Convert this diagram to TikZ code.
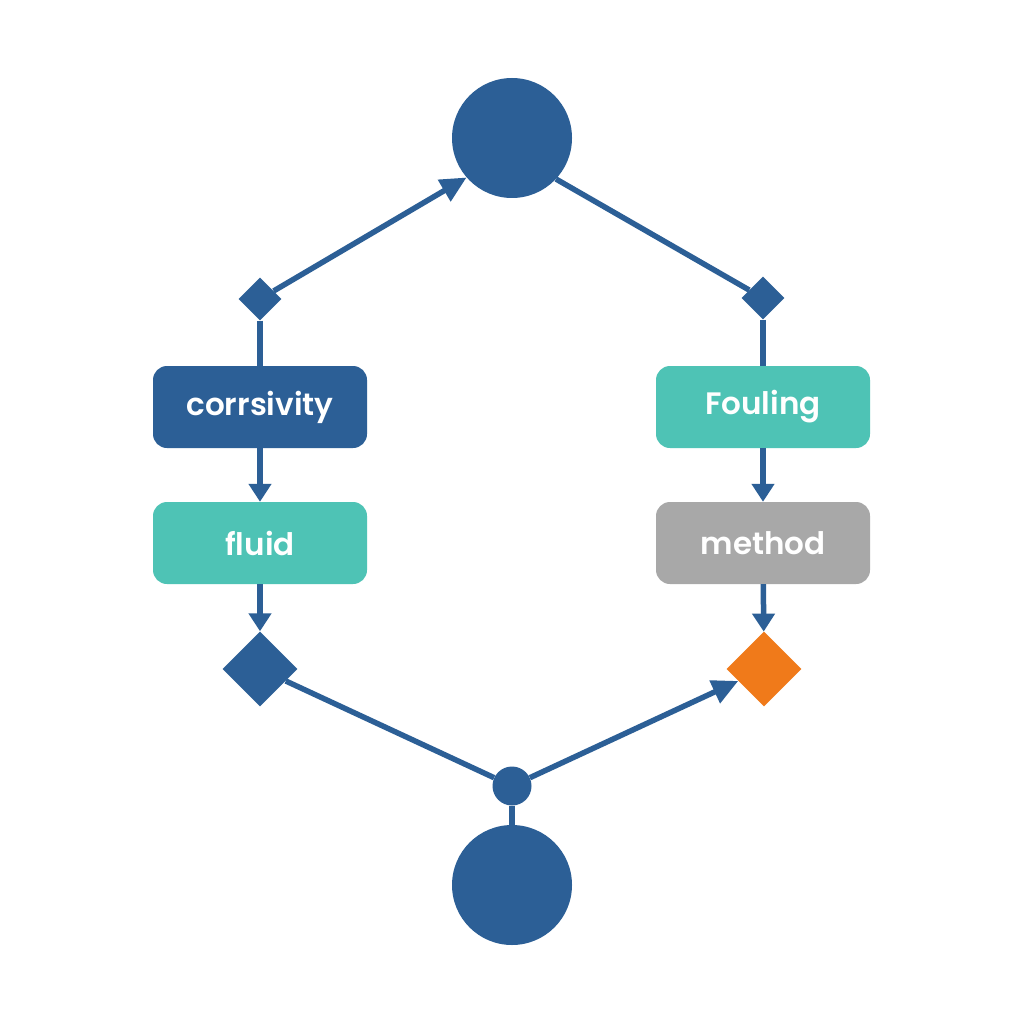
\documentclass[tikz,border=0pt]{standalone}
\usepackage{fontspec}
\setmainfont{Poppins}[BoldFont={Poppins SemiBold}]
\usetikzlibrary{arrows.meta,shapes.geometric}
\definecolor{navy}{RGB}{44,95,150}
\definecolor{teal}{RGB}{78,195,181}
\definecolor{greybox}{RGB}{168,168,168}
\definecolor{orangeD}{RGB}{240,122,26}
\tikzset{
  box/.style={rectangle, rounded corners=14pt, minimum width=214pt, minimum height=82pt, inner sep=0pt, text=white, font=\fontsize{31}{36}\selectfont\bfseries},
  bigcirc/.style={circle, fill=navy, minimum size=120pt, inner sep=0pt},
  dotnode/.style={circle, fill=navy, minimum size=39pt, inner sep=0pt},
  smalldia/.style={diamond, fill=navy, minimum size=43pt, inner sep=0pt, aspect=1},
  bigdia/.style={diamond, minimum size=75pt, inner sep=0pt, aspect=1},
  conn/.style={draw=navy, line width=5.5pt},
  arr/.style={conn, -{Triangle[length=18pt,width=22pt]}},
  darr/.style={conn, -{Triangle[length=26pt,width=24pt]}}
}
\begin{document}
\begin{tikzpicture}[x=1pt,y=-1pt]
\useasboundingbox[fill=white] (0,0) rectangle (1024,1024);
\node[bigcirc] (top) at (512,138) {};
\node[bigcirc] (bot) at (512,885) {};
\node[dotnode] (dot) at (512,786) {};
\node[smalldia] (ld) at (260,299) {};
\node[smalldia] (rd) at (763,298) {};
\node[bigdia, fill=navy] (bd) at (260,669) {};
\node[bigdia, fill=orangeD] (od) at (764,669) {};
\node[box, fill=navy] (cor) at (260,407) {\raisebox{-2pt}{corrsivity}};
\node[box, fill=teal] (flu) at (260,543) {\raisebox{-2pt}{fluid}};
\node[box, fill=teal] (fou) at (763,407) {\raisebox{-2pt}{Fouling}};
\node[box, fill=greybox] (met) at (763,543) {\raisebox{-2pt}{method}};
\draw[darr] (ld) -- (top.221);
\draw[conn] (top.-43) -- (rd);
\draw[conn] (ld) -- (cor);
\draw[conn] (rd) -- (fou);
\draw[arr] (cor) -- (flu);
\draw[arr] (flu) -- (bd);
\draw[arr] (fou) -- (met);
\draw[arr] (met) -- (od);
\draw[conn] (bd) -- (dot);
\draw[darr] (dot) -- (od);
\draw[conn] (dot) -- (bot);
\end{tikzpicture}
\end{document}
